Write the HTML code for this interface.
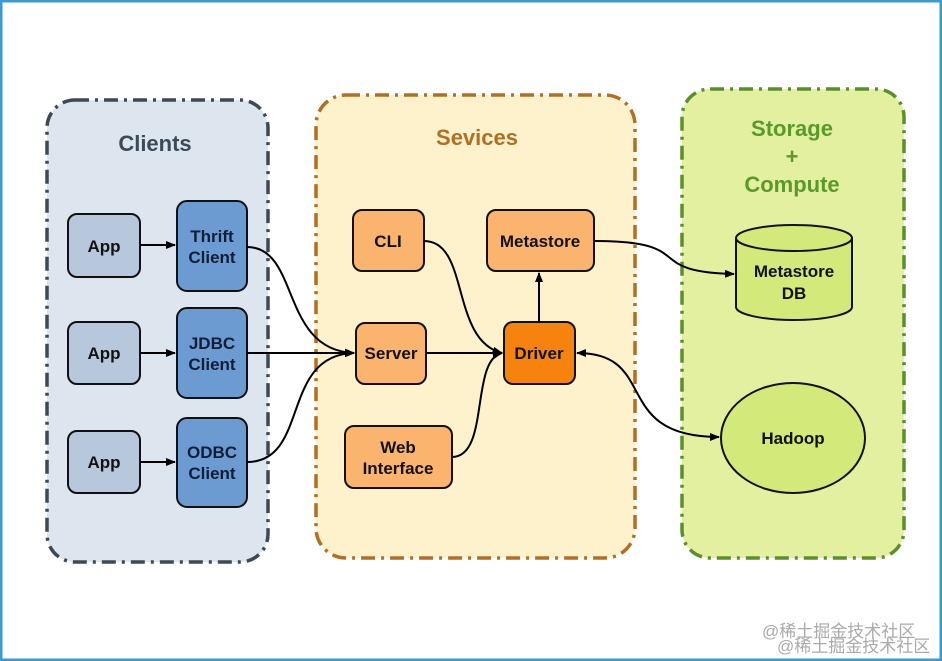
<!DOCTYPE html>
<html><head><meta charset="utf-8"><style>
html,body{margin:0;padding:0;background:#fff;}
svg{display:block;}
text{font-family:"Liberation Sans",sans-serif;font-weight:bold;}
</style></head><body>
<svg width="942" height="661" viewBox="0 0 942 661" xmlns="http://www.w3.org/2000/svg">
<defs>
<marker id="a" markerWidth="10" markerHeight="8" refX="9" refY="4" orient="auto" markerUnits="userSpaceOnUse"><path d="M0,0 L10,4 L0,8 z" fill="#000"/></marker>
<marker id="as" markerWidth="10" markerHeight="8" refX="1" refY="4" orient="auto" markerUnits="userSpaceOnUse"><path d="M10,0 L0,4 L10,8 z" fill="#000"/></marker>
</defs>
<rect x="0" y="0" width="942" height="661" fill="#fff"/>
<rect x="1" y="1" width="940" height="659" fill="none" stroke="#3a9ad6" stroke-width="3"/>
<g stroke-width="3.5" stroke-dasharray="14,6,3,6">
<rect x="47" y="100" width="221" height="462" rx="28" fill="#dde6ee" stroke="#3c4a57"/>
<rect x="316" y="95" width="319" height="463" rx="30" fill="#fdf2cc" stroke="#b06f23"/>
<rect x="682" y="89" width="222" height="469" rx="28" fill="#e2f0a0" stroke="#5a8f29"/>
</g>
<text x="155" y="151" font-size="22" fill="#3c4a57" text-anchor="middle">Clients</text>
<text x="477" y="145" font-size="22" fill="#b06f23" text-anchor="middle">Sevices</text>
<g font-size="22" fill="#5a9a2a" text-anchor="middle"><text x="792" y="136">Storage</text><text x="792" y="164">+</text><text x="792" y="192">Compute</text></g>

<g stroke="#111" stroke-width="2">
<rect x="68" y="214" width="72" height="63" rx="9" fill="#b8c8dc"/>
<rect x="68" y="322" width="72" height="62" rx="9" fill="#b8c8dc"/>
<rect x="68" y="431" width="72" height="62" rx="9" fill="#b8c8dc"/>
<rect x="177" y="201" width="70" height="90" rx="10" fill="#6b9bd0"/>
<rect x="177" y="308" width="70" height="90" rx="10" fill="#6b9bd0"/>
<rect x="177" y="418" width="70" height="89" rx="10" fill="#6b9bd0"/>
<rect x="353" y="210" width="71" height="61" rx="9" fill="#fbb46e"/>
<rect x="487" y="210" width="107" height="61" rx="9" fill="#fbb46e"/>
<rect x="356" y="323" width="70" height="61" rx="9" fill="#fbb46e"/>
<rect x="504" y="322" width="71" height="62" rx="9" fill="#f7830f"/>
<rect x="345" y="426" width="107" height="62" rx="9" fill="#fbb46e"/>
<path d="M736,238 L736,307 A58,13 0 0 0 852,307 L852,238" fill="#d3ea7a"/>
<ellipse cx="794" cy="238" rx="58" ry="13" fill="#d3ea7a"/>
<ellipse cx="793" cy="438" rx="72" ry="55" fill="#d3ea7a"/>
</g>
<g font-size="17" fill="#111" text-anchor="middle">
<text x="104" y="252">App</text><text x="104" y="359">App</text><text x="104" y="468">App</text>
<text x="212" y="242" fill="#0f1e38">Thrift</text><text x="212" y="263" fill="#0f1e38">Client</text>
<text x="212" y="349" fill="#0f1e38">JDBC</text><text x="212" y="370" fill="#0f1e38">Client</text>
<text x="212" y="458" fill="#0f1e38">ODBC</text><text x="212" y="479" fill="#0f1e38">Client</text>
<text x="388" y="247">CLI</text><text x="540" y="247">Metastore</text>
<text x="391" y="359">Server</text><text x="539" y="359">Driver</text>
<text x="398" y="453">Web</text><text x="398" y="474">Interface</text>
<text x="794" y="277">Metastore</text><text x="794" y="299">DB</text>
<text x="793" y="444">Hadoop</text>
</g>
<g fill="none" stroke="#000" stroke-width="2">
<path d="M140,245 L175,245" marker-end="url(#a)"/>
<path d="M140,353 L175,353" marker-end="url(#a)"/>
<path d="M140,462 L175,462" marker-end="url(#a)"/>
<path d="M247,247 C300,247 280,350 354,353" marker-end="url(#a)"/>
<path d="M247,353 L354,353" marker-end="url(#a)"/>
<path d="M247,462 C310,462 280,355 354,353" marker-end="url(#a)"/>
<path d="M424,241 C470,241 450,340 502,353" marker-end="url(#a)"/>
<path d="M426,353 L502,353" marker-end="url(#a)"/>
<path d="M452,457 C490,457 470,360 502,353" marker-end="url(#a)"/>
<path d="M539,322 L539,273" marker-end="url(#a)"/>
<path d="M594,241 C700,241 640,272 734,274" marker-end="url(#a)"/>
<path d="M577,353 C660,353 610,437 719,437" marker-start="url(#as)" marker-end="url(#a)"/>
</g>
<g font-family="'Liberation Sans','Noto Sans CJK SC',sans-serif" font-size="17" fill="#aaa" font-weight="normal">
<text x="762" y="637" style="font-weight:normal">@稀土掘金技术社区</text>
<text x="777" y="652" style="font-weight:normal">@稀土掘金技术社区</text>
</g>
</svg>
</body></html>
